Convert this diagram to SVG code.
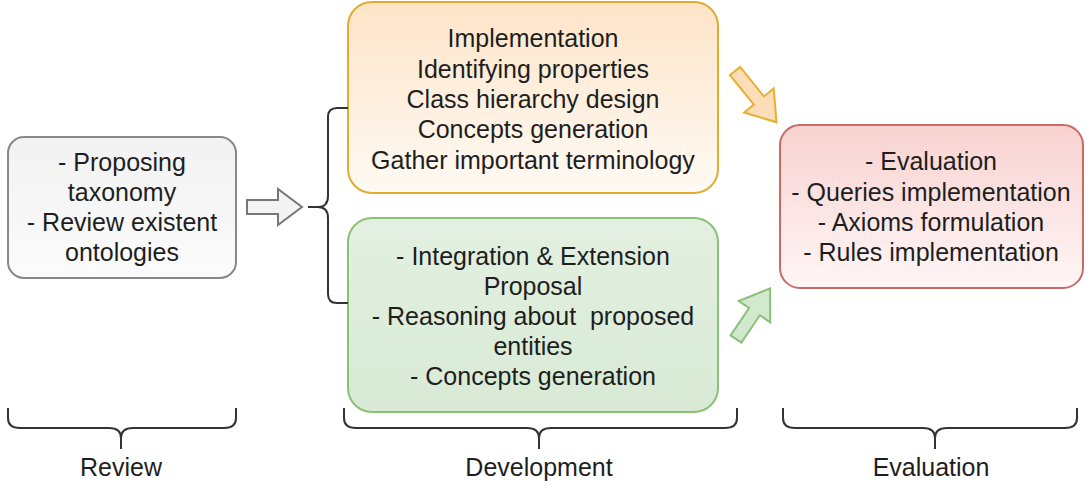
<svg xmlns="http://www.w3.org/2000/svg" width="1091" height="488" viewBox="0 0 1091 488">
<defs>
<linearGradient id="gGray" x1="0" y1="0" x2="0" y2="1"><stop offset="0" stop-color="#f2f2f2"/><stop offset="1" stop-color="#fbfbfb"/></linearGradient>
<linearGradient id="gOrange" x1="0" y1="0" x2="0" y2="1"><stop offset="0" stop-color="#fde4c8"/><stop offset="1" stop-color="#fffaf4"/></linearGradient>
<linearGradient id="gGreen" x1="0" y1="0" x2="0" y2="1"><stop offset="0" stop-color="#e3f0e1"/><stop offset="1" stop-color="#d8ead6"/></linearGradient>
<linearGradient id="gRed" x1="0" y1="0" x2="0" y2="1"><stop offset="0" stop-color="#f8d2d0"/><stop offset="1" stop-color="#fff6f6"/></linearGradient>
</defs>
<style>
text{font-family:"Liberation Sans",Arial,sans-serif;fill:#1e1e1e;text-anchor:middle}
.t{font-size:25px}
.lbl{font-size:25px}
.brace{fill:none;stroke:#333;stroke-width:2}
.box{stroke-width:2}
</style>
<g id="review">
<rect class="box" x="8" y="137" width="228" height="141" rx="16" fill="url(#gGray)" stroke="#888"/>
<text class="t" x="122" y="171">- Proposing</text>
<text class="t" x="122" y="201">taxonomy</text>
<text class="t" x="122" y="231">- Review existent</text>
<text class="t" x="122" y="261">ontologies</text>
</g>
<g id="implementation">
<rect class="box" x="348" y="2" width="370" height="191" rx="24" fill="url(#gOrange)" stroke="#e0ac30"/>
<text class="t" x="533" y="47">Implementation</text>
<text class="t" x="533" y="78">Identifying properties</text>
<text class="t" x="533" y="108">Class hierarchy design</text>
<text class="t" x="533" y="138">Concepts generation</text>
<text class="t" x="533" y="169">Gather important terminology</text>
</g>
<g id="integration">
<rect class="box" x="348" y="218" width="370" height="194" rx="24" fill="url(#gGreen)" stroke="#8cc074"/>
<text class="t" x="533" y="265">- Integration &amp; Extension</text>
<text class="t" x="533" y="295">Proposal</text>
<text class="t" x="533" y="325" xml:space="preserve">- Reasoning about  proposed</text>
<text class="t" x="533" y="355">entities</text>
<text class="t" x="533" y="385">- Concepts generation</text>
</g>
<g id="evaluation">
<rect class="box" x="780" y="125" width="303" height="163" rx="20" fill="url(#gRed)" stroke="#c86a66"/>
<text class="t" x="931" y="170">- Evaluation</text>
<text class="t" x="931" y="201">- Queries implementation</text>
<text class="t" x="931" y="231">- Axioms formulation</text>
<text class="t" x="931" y="261">- Rules implementation</text>
</g>
<g id="connectors">
<path d="M0,-7 L31,-7 L31,-18 L55,0 L31,18 L31,7 L0,7 Z" transform="translate(247,207)" fill="#f3f3f3" stroke="#777" stroke-width="2" stroke-linejoin="miter"/>
<path d="M0,-6.5 L38,-6.5 L38,-19 L66,0 L38,19 L38,6.5 L0,6.5 Z" transform="translate(735,71) rotate(51)" fill="#fddcb8" stroke="#e8b030" stroke-width="2"/>
<path d="M0,-6.5 L33,-6.5 L33,-19 L61,0 L33,19 L33,6.5 L0,6.5 Z" transform="translate(736,339) rotate(-56)" fill="#d2e8cf" stroke="#8cc074" stroke-width="2"/>
<path class="brace" d="M348,108 L337,108 Q328,108 328,117 L328,196 Q328,207 318,207 L308,207 M318,207 Q328,207 328,218 L328,294 Q328,303 337,303 L348,303"/>
<path class="brace" d="M8,408 L8,418 Q8,428 20,428 L109,428 Q121,428 121,438 L121,449 M121,438 Q121,428 133,428 L224,428 Q236,428 236,418 L236,408"/>
<path class="brace" d="M344,408 L344,418 Q344,428 356,428 L527,428 Q539,428 539,438 L539,449 M539,438 Q539,428 551,428 L725,428 Q737,428 737,418 L737,408"/>
<path class="brace" d="M783,408 L783,418 Q783,428 795,428 L923,428 Q935,428 935,438 L935,449 M935,438 Q935,428 947,428 L1065,428 Q1077,428 1077,418 L1077,408"/>
</g>
<g id="labels">
<text class="lbl" x="121" y="476">Review</text>
<text class="lbl" x="539" y="476">Development</text>
<text class="lbl" x="931" y="476">Evaluation</text>
</g>
</svg>
